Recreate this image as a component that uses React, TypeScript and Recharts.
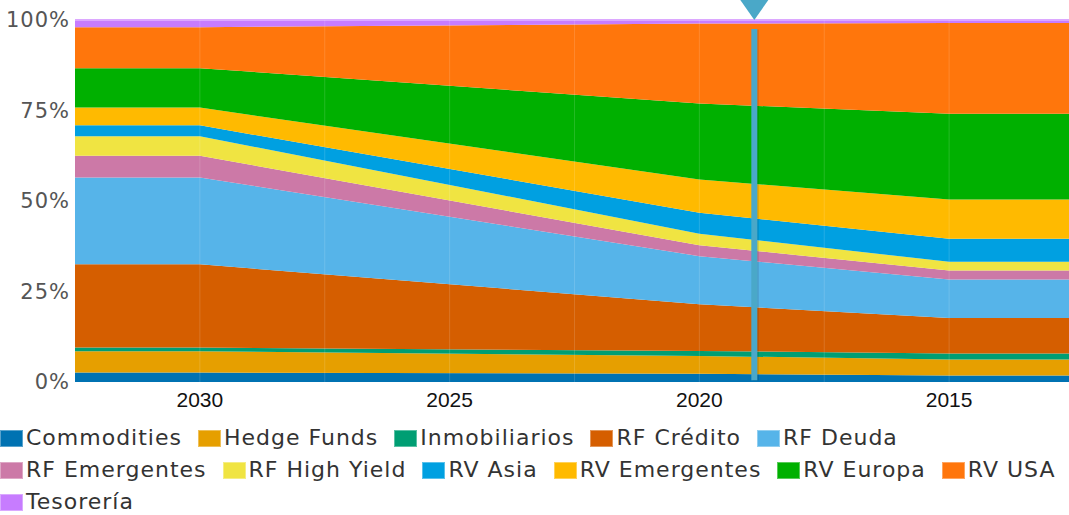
import React from "react";
import { AreaChart, Area, XAxis, YAxis, ReferenceLine, ReferenceDot } from "recharts";

// Target-date years (x axis runs from later to earlier years)
const years = [2032.5, 2030, 2020, 2015, 2012.6];

// Allocation (%) per asset class
const commodities = [2.6, 2.6, 2.3, 1.8, 1.8];
const hedgeFunds = [5.9, 5.9, 4.9, 4.4, 4.4];
const inmobiliarios = [1.0, 1.0, 1.4, 1.7, 1.7];
const rfCredito = [23.0, 23.0, 12.9, 9.8, 9.8];
const rfDeuda = [24.0, 24.0, 13.3, 10.6, 10.6];
const rfEmergentes = [6.0, 6.0, 3.0, 2.5, 2.5];
const rfHighYield = [5.4, 5.4, 3.2, 2.4, 2.4];
const rvAsia = [3.0, 3.0, 5.8, 6.4, 6.4];
const rvEmergentes = [4.9, 4.9, 9.2, 10.8, 10.8];
const rvEuropa = [10.9, 10.9, 21.0, 23.7, 23.7];
const rvUSA = [11.3, 11.3, 22.1, 25.1, 25.1];
const tesoreria = [2.0, 2.0, 1.0, 0.8, 0.8];

const seriesNames = [
  "Commodities",
  "Hedge Funds",
  "Inmobiliarios",
  "RF Crédito",
  "RF Deuda",
  "RF Emergentes",
  "RF High Yield",
  "RV Asia",
  "RV Emergentes",
  "RV Europa",
  "RV USA",
  "Tesorería",
];
const seriesValues = [
  commodities,
  hedgeFunds,
  inmobiliarios,
  rfCredito,
  rfDeuda,
  rfEmergentes,
  rfHighYield,
  rvAsia,
  rvEmergentes,
  rvEuropa,
  rvUSA,
  tesoreria,
];
const seriesColors = [
  "#0072B2",
  "#E69F00",
  "#009E73",
  "#D55E00",
  "#56B4E9",
  "#CC79A7",
  "#F0E442",
  "#00A0E1",
  "#FFBA00",
  "#00B000",
  "#FF760C",
  "#C77CFF",
];

const xTicks = [2030, 2025, 2020, 2015];
const yTicks = [0, 0.25, 0.5, 0.75, 1];
const gridYears = [2030, 2027.5, 2025, 2022.5, 2020, 2017.5, 2015];
const currentYear = 2018.9;
const xDomain = [2012.6, 2032.5];

const data = years.map((year, i) => {
  const row: Record<string, number> = { year };
  seriesNames.forEach((name, s) => {
    row[name] = seriesValues[s][i];
  });
  return row;
});

const Triangle = (props: any) => {
  const { cx, cy } = props;
  if (cx == null || cy == null) return null;
  return (
    <polygon
      points={`${cx - 14},${cy - 20} ${cx + 14},${cy - 20} ${cx},${cy}`}
      fill="#4AA8C8"
    />
  );
};

const Legend = () => (
  <div
    style={{
      position: "absolute",
      left: 0,
      top: 421,
      width: 1100,
      display: "flex",
      flexWrap: "wrap",
      fontFamily: "'DejaVu Sans', sans-serif",
      fontSize: 22,
      letterSpacing: 1,
      color: "#333",
    }}
  >
    {seriesNames.map((name, i) => (
      <div
        key={name}
        style={{
          display: "flex",
          alignItems: "center",
          height: 32,
          marginRight: 16,
          whiteSpace: "nowrap",
        }}
      >
        <span
          style={{
            display: "inline-block",
            width: 23,
            height: 17,
            marginRight: 3,
            marginTop: 3,
            background: seriesColors[i],
            boxSizing: "border-box",
            border: "1px solid rgba(255,255,255,0.35)",
          }}
        />
        <span>{name}</span>
      </div>
    ))}
  </div>
);

export default function App() {
  return (
    <div
      style={{
        position: "absolute",
        left: 0,
        top: 0,
        width: 1069,
        height: 515,
        background: "#fff",
        overflow: "hidden",
      }}
    >
      <AreaChart
        width={1069}
        height={420}
        data={data}
        stackOffset="expand"
        margin={{ top: 20, right: 0, left: 0, bottom: 0 }}
      >
        <XAxis
          dataKey="year"
          type="number"
          domain={xDomain}
          reversed
          ticks={xTicks}
          interval={0}
          height={38}
          tickSize={0}
          tickMargin={10}
          axisLine={false}
          tickLine={false}
          tick={{ fontFamily: "'Liberation Sans', Arial, sans-serif", fontSize: 21, fill: "#111" }}
        />
        <YAxis
          width={75}
          domain={[0, 1]}
          ticks={yTicks}
          interval={0}
          tickSize={0}
          tickMargin={5}
          axisLine={false}
          tickLine={false}
          tickFormatter={(v: number) => `${Math.round(v * 100)}%`}
          tick={{ fontFamily: "'DejaVu Sans', sans-serif", fontSize: 21, fill: "#555", letterSpacing: 1 }}
        />
        {seriesNames.map((name, i) => (
          <Area
            key={name}
            type="linear"
            dataKey={name}
            stackId="1"
            fill={seriesColors[i]}
            fillOpacity={1}
            stroke={name === "Tesorería" ? "#DCA8FF" : "none"}
            strokeWidth={name === "Tesorería" ? 2 : 0}
            dot={false}
            activeDot={false}
            isAnimationActive={false}
          />
        ))}
        {gridYears.map((y) => (
          <ReferenceLine key={y} x={y} stroke="#ffffff" strokeOpacity={0.14} strokeWidth={1} />
        ))}
        <ReferenceLine
          segment={[
            { x: currentYear - 0.03, y: 0.004 },
            { x: currentYear - 0.03, y: 0.974 },
          ]}
          stroke="#000000"
          strokeOpacity={0.12}
          strokeWidth={6}
        />
        <ReferenceLine
          segment={[
            { x: currentYear, y: 0.005 },
            { x: currentYear, y: 0.975 },
          ]}
          stroke="#4AA8C8"
          strokeWidth={6}
        />
        <ReferenceDot x={currentYear} y={1} r={0} ifOverflow="visible" shape={Triangle} />
      </AreaChart>
      <Legend />
    </div>
  );
}
